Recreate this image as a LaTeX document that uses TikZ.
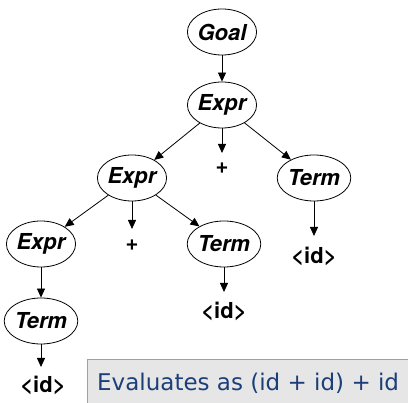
\documentclass[tikz,border=0pt]{standalone}
\usepackage{fontspec}
\setmainfont{TeX Gyre Heros}
\newfontfamily\notefont{DejaVu Sans}
\usetikzlibrary{arrows.meta,shapes.geometric}
\definecolor{notefill}{HTML}{E6E6E6}
\definecolor{noteedge}{HTML}{A0A0A0}
\definecolor{noteink}{HTML}{1C3F7A}
\tikzset{
  nt/.style={draw, ellipse, line width=0.8pt, minimum width=69pt, minimum height=46pt,
    inner sep=0pt, font=\fontsize{22}{24}\selectfont\bfseries\itshape},
  tok/.style={inner sep=0pt, font=\fontsize{22}{24}\selectfont\bfseries},
  edge/.style={-{Triangle[length=9pt,width=8pt]}, line width=0.8pt},
}
\begin{document}
\begin{tikzpicture}[x=1pt, y=-1pt]
\useasboundingbox (0,0) rectangle (408,403);
% interior nodes
\node[nt] (goal) at (222,32) {Goal};
\node[nt] (e1) at (222,105) {Expr};
\node[nt] (t1) at (314,178) {Term};
\node[nt] (e2) at (132,178) {Expr};
\node[nt] (t2) at (224,244) {Term};
\node[nt] (e3) at (41,244) {Expr};
\node[nt] (t3) at (41,321) {Term};
% leaves
\node[tok] (p1) at (222,168) {+};
\node[tok] (p2) at (132,245) {+};
\node[tok] (i1) at (314,256) {<id>};
\node[tok] (i2) at (224,311) {<id>};
\node[tok] (i3) at (43,385) {<id>};
% edges
\draw[edge] (goal) -- (e1);
\draw[edge] (e1) -- (e2);
\draw[edge] (e1) -- (e1.south |- 0,153) coordinate (p1top);
\draw[edge] (e1) -- (t1);
\draw[edge] (e2) -- (e3);
\draw[edge] (e2) -- (e2.south |- 0,229) coordinate (p2top);
\draw[edge] (e2) -- (t2);
\draw[edge] (t1) -- (t1.south |- 0,236) coordinate (i1top);
\draw[edge] (t2) -- (t2.south |- 0,292) coordinate (i2top);
\draw[edge] (e3) -- (t3);
\draw[edge] (t3) -- (t3.south |- 0,367) coordinate (i3top);
% note
\path[draw=noteedge, fill=notefill, line width=1pt] (87.5,360) rectangle (408.5,404);
\node[anchor=west, inner sep=0pt, text=noteink, font=\notefont\fontsize{23}{26}\selectfont]
  (note) at (97,383) {Evaluates as (id + id) + id};
\end{tikzpicture}
\end{document}
